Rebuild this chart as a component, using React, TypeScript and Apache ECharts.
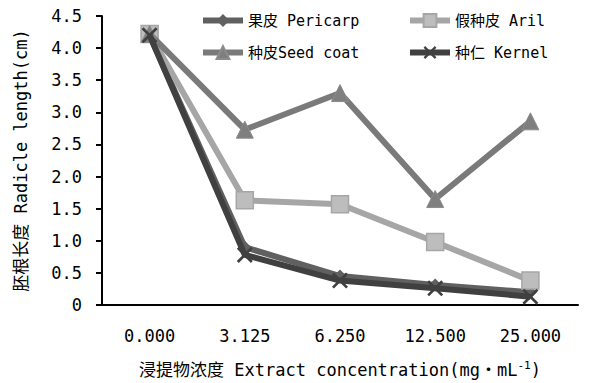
import React, { useEffect, useRef } from "react";
import * as echarts from "echarts";

const categories = ["0.000", "3.125", "6.250", "12.500", "25.000"];
const yTicks = [0, 0.5, 1.0, 1.5, 2.0, 2.5, 3.0, 3.5, 4.0, 4.5];
const seriesNames = ["果皮 Pericarp", "假种皮 Aril", "种皮Seed coat", "种仁 Kernel"];
const pericarp = [4.2, 0.9, 0.45, 0.31, 0.2];
const aril = [4.22, 1.63, 1.57, 0.98, 0.38];
const seedCoat = [4.22, 2.73, 3.3, 1.65, 2.86];
const kernel = [4.2, 0.78, 0.38, 0.26, 0.13];

const MONO = "'DejaVu Sans Mono', 'Noto Sans CJK SC', monospace";
const X_PATH = "path://M0,1.2 L1.2,0 L10,8.8 L8.8,10 Z M8.8,0 L10,1.2 L1.2,10 L0,8.8 Z";

export default function App() {
  const ref = useRef<HTMLDivElement>(null);
  useEffect(() => {
    const chart = echarts.init(ref.current!, null, { renderer: "svg" });
    const legendPos = [
      { left: 200, top: 13 },
      { left: 407, top: 13 },
      { left: 200, top: 45 },
      { left: 407, top: 45 },
    ];
    chart.setOption({
      animation: false,
      backgroundColor: "#ffffff",
      grid: { left: 102, right: 11, top: 16, bottom: 73, containLabel: false },
      legend: seriesNames.map((n, i) => ({
        data: [n],
        left: legendPos[i].left,
        top: legendPos[i].top,
        padding: 0,
        itemWidth: 40,
        itemHeight: 16,
        itemGap: 0,
        itemStyle: {},
        lineStyle: { width: 6 },
        textStyle: { fontFamily: MONO, fontSize: 15, color: "#000" },
        selectedMode: false,
      })),
      xAxis: {
        type: "category",
        data: categories,
        boundaryGap: true,
        axisLine: { lineStyle: { color: "#000", width: 2 } },
        axisTick: { inside: true, length: 7, lineStyle: { color: "#000", width: 2 } },
        axisLabel: { fontFamily: MONO, fontSize: 17, color: "#000", margin: 22 },
        name: "浸提物浓度 Extract concentration(mg・mL{sup|-1})",
        nameLocation: "middle",
        nameGap: 55,
        nameTextStyle: {
          fontFamily: MONO,
          fontSize: 17,
          color: "#000",
          rich: { sup: { fontFamily: MONO, fontSize: 11, color: "#000", verticalAlign: "top", padding: [0, 0, 8, 0] } },
        },
      },
      yAxis: {
        type: "value",
        min: yTicks[0],
        max: yTicks[yTicks.length - 1],
        interval: 0.5,
        splitLine: { show: false },
        axisLine: { show: true, lineStyle: { color: "#000", width: 2 } },
        axisTick: { show: true, length: 6, lineStyle: { color: "#000", width: 2 } },
        axisLabel: {
          fontFamily: MONO,
          fontSize: 17,
          color: "#000",
          margin: 20,
          formatter: (v: number) => (v === 0 ? "0" : v.toFixed(1)),
        },
        name: "胚根长度 Radicle length(cm)",
        nameLocation: "middle",
        nameGap: 73,
        nameTextStyle: { fontFamily: MONO, fontSize: 17, color: "#000" },
      },
      series: [
        {
          name: seriesNames[0],
          type: "line",
          data: pericarp,
          symbol: "diamond",
          symbolSize: 13,
          lineStyle: { color: "#606060", width: 6 },
          itemStyle: { color: "#606060" },
          z: 2,
        },
        {
          name: seriesNames[1],
          type: "line",
          data: aril,
          symbol: "rect",
          symbolSize: 17,
          lineStyle: { color: "#a6a6a6", width: 6 },
          itemStyle: { color: "#bdbdbd", borderColor: "#a6a6a6", borderWidth: 1.5 },
          z: 3,
        },
        {
          name: seriesNames[2],
          type: "line",
          data: seedCoat,
          symbol: "triangle",
          symbolSize: 17,
          lineStyle: { color: "#7a7a7a", width: 6 },
          itemStyle: { color: "#7f7f7f", borderColor: "#8c8c8c", borderWidth: 1 },
          z: 4,
        },
        {
          name: seriesNames[3],
          type: "line",
          data: kernel,
          symbol: X_PATH,
          symbolSize: 16,
          lineStyle: { color: "#404040", width: 6 },
          itemStyle: { color: "#404040" },
          z: 5,
        },
      ],
    });
    return () => chart.dispose();
  }, []);
  return <div ref={ref} style={{ width: 589, height: 383, position: "absolute", left: 0, top: 0 }} />;
}
